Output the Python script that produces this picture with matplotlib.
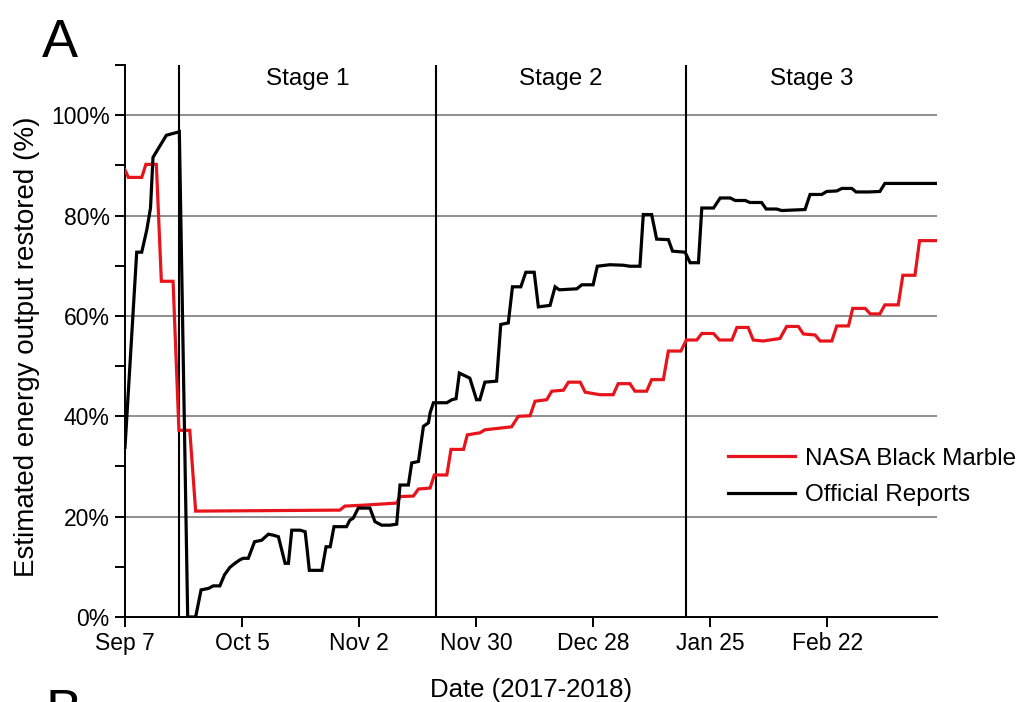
import matplotlib
matplotlib.use('Agg')
import matplotlib.pyplot as plt
from matplotlib.ticker import FixedLocator

plt.rcParams['font.family'] = ['Liberation Sans', 'DejaVu Sans']

# ---- data (days after Sep 7, 2017; percent restored) ----
red_days = [0, 0.8, 4.0, 5.0, 7.5, 8.7, 11.5, 12.9, 15.5, 16.9,
            51.4, 52.6, 57.4, 65.0, 65.8, 69.0, 70.2, 73.0, 74.0, 77.0,
            78.0, 81.0, 81.9, 84.9, 86.1, 92.5, 94.1, 96.9, 98.1, 100.9,
            102.1, 104.9, 106.1, 108.9, 110.1, 113.6, 116.8, 118.0, 120.8, 122.0,
            124.8, 126.0, 128.8, 130.0, 133.0, 134.3, 136.8, 138.0, 140.8, 142.2,
            145.2, 146.4, 149.1, 150.3, 152.7, 156.7, 158.3, 161.1, 162.3, 165.1,
            166.3, 169.1, 170.3, 173.1, 174.1, 177.1, 178.3, 180.6, 181.8, 185.0,
            186.1, 189.0, 190.1, 194.2]
red_vals = [89.1, 87.6, 87.6, 90.2, 90.2, 66.9, 66.9, 37.2, 37.2, 21.1,
            21.3, 22.1, 22.3, 22.7, 24.0, 24.1, 25.5, 25.7, 28.3, 28.3,
            33.4, 33.4, 36.3, 36.7, 37.3, 37.9, 40.0, 40.1, 43.0, 43.3,
            45.0, 45.2, 46.8, 46.8, 44.8, 44.3, 44.3, 46.5, 46.5, 45.0,
            45.0, 47.3, 47.3, 53.0, 53.0, 55.2, 55.2, 56.5, 56.5, 55.2,
            55.2, 57.7, 57.7, 55.2, 55.0, 55.5, 57.9, 57.9, 56.4, 56.2,
            55.0, 55.0, 58.0, 58.0, 61.5, 61.5, 60.4, 60.4, 62.2, 62.2,
            68.1, 68.1, 75.0, 75.0]

black_days = [0, 2.8, 4.0, 5.2, 6.1, 6.7, 8.3, 9.9, 13.0, 15.0,
              16.9, 18.2, 20.0, 21.1, 22.7, 23.8, 25.1, 26.3, 27.5, 28.3,
              29.5, 31.0, 32.7, 34.3, 35.5, 36.7, 38.3, 39.1, 39.9, 41.9,
              43.1, 43.6, 44.1, 47.1, 48.1, 49.1, 50.0, 53.0, 53.8, 54.6,
              55.8, 58.6, 59.8, 61.4, 63.4, 65.0, 65.8, 67.8, 68.6, 70.2,
              71.4, 72.6, 73.0, 73.8, 77.0, 78.2, 79.2, 80.0, 82.5, 84.1,
              84.9, 86.1, 88.9, 89.9, 91.7, 92.7, 94.7, 95.9, 97.9, 98.9,
              101.7, 102.9, 103.9, 108.1, 109.3, 112.0, 113.0, 116.0, 119.2, 120.8,
              123.2, 124.0, 126.0, 127.2, 130.0, 131.0, 134.0, 135.2, 137.2, 138.0,
              140.8, 142.4, 144.8, 146.0, 148.4, 149.5, 152.3, 153.4, 155.9, 157.1,
              159.9, 162.7, 163.9, 166.7, 167.9, 170.3, 171.5, 173.9, 174.9, 177.9,
              180.6, 181.8, 194.2]
black_vals = [33.8, 72.7, 72.7, 77.1, 81.5, 91.6, 93.8, 96.0, 96.7, 0.0,
              0.0, 5.4, 5.7, 6.2, 6.2, 8.4, 9.9, 10.7, 11.4, 11.7,
              11.7, 15.0, 15.3, 16.5, 16.3, 16.0, 10.7, 10.7, 17.3, 17.3,
              17.0, 13.3, 9.3, 9.3, 14.0, 14.0, 18.0, 18.0, 19.3, 19.7,
              21.7, 21.7, 19.0, 18.3, 18.3, 18.5, 26.3, 26.3, 30.7, 31.0,
              38.0, 38.7, 40.7, 42.7, 42.7, 43.3, 43.5, 48.6, 47.6, 43.3,
              43.3, 46.8, 47.0, 58.3, 58.6, 65.8, 65.8, 68.7, 68.7, 61.8,
              62.1, 65.8, 65.2, 65.4, 66.2, 66.2, 69.9, 70.2, 70.1, 69.9,
              69.9, 80.2, 80.2, 75.3, 75.2, 72.9, 72.7, 70.6, 70.6, 81.5,
              81.5, 83.5, 83.5, 83.0, 83.0, 82.6, 82.6, 81.3, 81.3, 81.0,
              81.1, 81.2, 84.2, 84.2, 84.8, 84.9, 85.4, 85.4, 84.7, 84.7,
              84.8, 86.4, 86.4]

tick_days = [0, 28, 56, 84, 112, 140, 168]
tick_labels = ['Sep 7', 'Oct 5', 'Nov 2', 'Nov 30', 'Dec 28', 'Jan 25', 'Feb 22']
stage_bounds = [13.0, 74.3, 134.2]
stage_names = ['Stage 1', 'Stage 2', 'Stage 3']
y_ticks = [0, 20, 40, 60, 80, 100]
y_labels = ['0%', '20%', '40%', '60%', '80%', '100%']
x_end = 194.2

# ---- figure ----
W, H = 1031, 702
fig = plt.figure(figsize=(W / 100, H / 100), dpi=100)
ax = fig.add_axes([125 / W, 1 - 617 / H, (936.7 - 125) / W, (617 - 65) / H])
ax.set_xlim(0, x_end)
ax.set_ylim(0, 110)

for y in y_ticks[1:]:
    ax.axhline(y, color='#707070', lw=1.1, zorder=1)
for d in stage_bounds:
    ax.axvline(d, color='black', lw=1.5, zorder=2)

ax.plot(red_days, red_vals, color='#e8141b', lw=2.3, zorder=3,
        label='NASA Black Marble', solid_joinstyle='miter')
ax.plot(black_days, black_vals, color='black', lw=2.3, zorder=4,
        label='Official Reports', solid_joinstyle='miter')

edges = [stage_bounds[0], stage_bounds[1], stage_bounds[2], x_end]
for i, name in enumerate(stage_names):
    ax.text((edges[i] + edges[i + 1]) / 2, 107.3, name, ha='center', va='center',
            fontsize=17.5)

ax.set_xticks(tick_days)
ax.set_xticklabels(tick_labels)
ax.set_yticks(y_ticks)
ax.set_yticklabels(y_labels)
ax.yaxis.set_minor_locator(FixedLocator([10, 30, 50, 70, 90, 110]))
ax.tick_params(axis='both', which='both', direction='out', length=7, width=1.4,
               labelsize=16.5, pad=4)

for s in ['top', 'right']:
    ax.spines[s].set_visible(False)
for s in ['left', 'bottom']:
    ax.spines[s].set_linewidth(1.4)

ax.set_ylabel('Estimated energy output restored (%)', fontsize=20)
ax.yaxis.set_label_coords(-0.105, 0.49)
ax.set_xlabel('Date (2017-2018)', fontsize=18.5)
ax.xaxis.set_label_coords(0.5, -0.11)

ax.legend(frameon=False, loc='upper left', bbox_to_anchor=(0.743, 0.307),
          fontsize=17.5, handlelength=2.75, handletextpad=0.4, borderpad=0,
          borderaxespad=0, labelspacing=0.6)

fig.text(42 / W, 1 - 57 / H, 'A', fontsize=39, ha='left', va='baseline')
fig.text(45 / W, 1 - 727 / H, 'B', fontsize=39, ha='left', va='baseline')

fig.savefig('out.png', dpi=100)
